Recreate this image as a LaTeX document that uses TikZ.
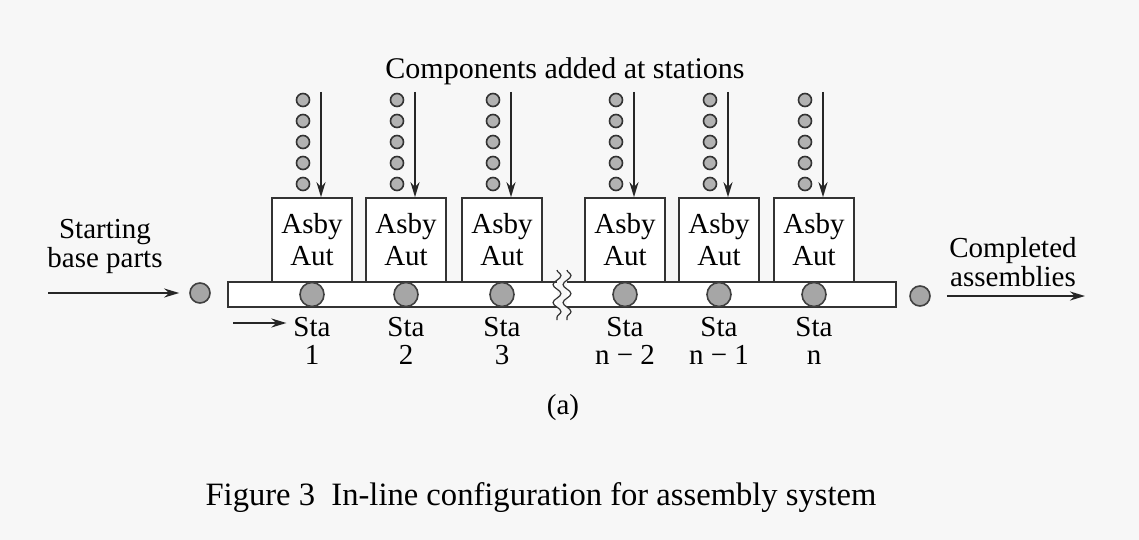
\documentclass[tikz,border=0pt]{standalone}
\usepackage{fontspec}
\setmainfont{Liberation Serif}
\usetikzlibrary{arrows.meta,decorations.pathmorphing}

\begin{document}
\begin{tikzpicture}[x=0.5pt, y=-0.5pt,
    asbybox/.style={rectangle, draw=black!80, thick, fill=white, minimum width=40pt, minimum height=42pt, inner sep=0pt, align=center, font=\fontsize{14.5}{16}\selectfont},
    part/.style={circle, draw=black!75, thick, fill=black!35, minimum size=12pt, inner sep=0pt},
    comp/.style={circle, draw=black!80, thick, fill=black!30, minimum size=6.5pt, inner sep=0pt},
    stalabel/.style={align=center, font=\fontsize{14.5}{14}\selectfont},
    sidelabel/.style={align=center, font=\fontsize{14.5}{14.5}\selectfont},
    myarrow/.style={-{Stealth[length=7.5pt, width=4.5pt]}, line width=1.1pt, draw=black!85},
]
\useasboundingbox (0,0) rectangle (1139,540);
\fill[black!3] (0,0) rectangle (1139,540);

% conveyor with break
\node[draw=black!80, thick, fill=white, minimum width=334pt, minimum height=12.5pt, inner sep=0pt] (conv) at (562,294.5) {};
\fill[black!3] (557,279) rectangle (567,311);
\draw[black!80, semithick, decorate, decoration={snake, amplitude=2pt, segment length=9pt}] (557,270) -- (557,320);
\draw[black!80, semithick, decorate, decoration={snake, amplitude=2pt, segment length=9pt}] (567,270) -- (567,320);

% workstations
\node[asbybox] (a1) at (312,240) {Asby\\Aut};
\node[asbybox] (a2) at (406,240) {Asby\\Aut};
\node[asbybox] (a3) at (502,240) {Asby\\Aut};
\node[asbybox] (a4) at (625,240) {Asby\\Aut};
\node[asbybox] (a5) at (719,240) {Asby\\Aut};
\node[asbybox] (a6) at (814,240) {Asby\\Aut};

% parts on the conveyor
\node[part] (s1) at (312,294.5) {};
\node[part] (s2) at (406,294.5) {};
\node[part] (s3) at (502,294.5) {};
\node[part] (s4) at (625,294.5) {};
\node[part] (s5) at (719,294.5) {};
\node[part] (s6) at (814,294.5) {};

\node[stalabel] (l1) at (312,341) {Sta\\1};
\node[stalabel] (l2) at (406,341) {Sta\\2};
\node[stalabel] (l3) at (502,341) {Sta\\3};
\node[stalabel] (l4) at (625,341) {Sta\\n − 2};
\node[stalabel] (l5) at (719,341) {Sta\\n − 1};
\node[stalabel] (l6) at (814,341) {Sta\\n};

% components fed to each station
\node[font=\fontsize{15}{16}\selectfont, anchor=base] (title) at (565,79) {Components added at stations};
\foreach \i/\x in {1/312, 2/406, 3/502, 4/625, 5/719, 6/814} {
  \foreach \j in {0,...,4}
    \node[comp] (c\i-\j) at (\x-9, 100+21*\j) {};
  \coordinate (f\i) at (\x+9, 92);
  \draw[myarrow] (f\i) -- (f\i |- a\i.north);
}

% in and out
\coordinate (sin) at (48,293);
\node[part, minimum size=10pt] (p0) at (200,293) {};
\draw[myarrow, shorten >=5pt] (sin) -- (p0);
\node[sidelabel] (start) at (105,246) {Starting\\base parts};

\node[part, minimum size=10pt] (pn) at (920,296) {};
\coordinate (sout) at (1085,296);
\draw[myarrow, shorten <=8pt] (pn) -- (sout);
\node[sidelabel] (done) at (1013,262) {Completed\\assemblies};

\coordinate (d0) at (233,323);
\draw[myarrow] (d0) -- (d0 -| l1.west);

\node[font=\fontsize{14.5}{16}\selectfont] (sub) at (563,408) {(a)};
\node[font=\fontsize{16.3}{19}\selectfont, anchor=base] (fig) at (541,505) {Figure 3\ \ In-line configuration for assembly system};
\end{tikzpicture}
\end{document}
